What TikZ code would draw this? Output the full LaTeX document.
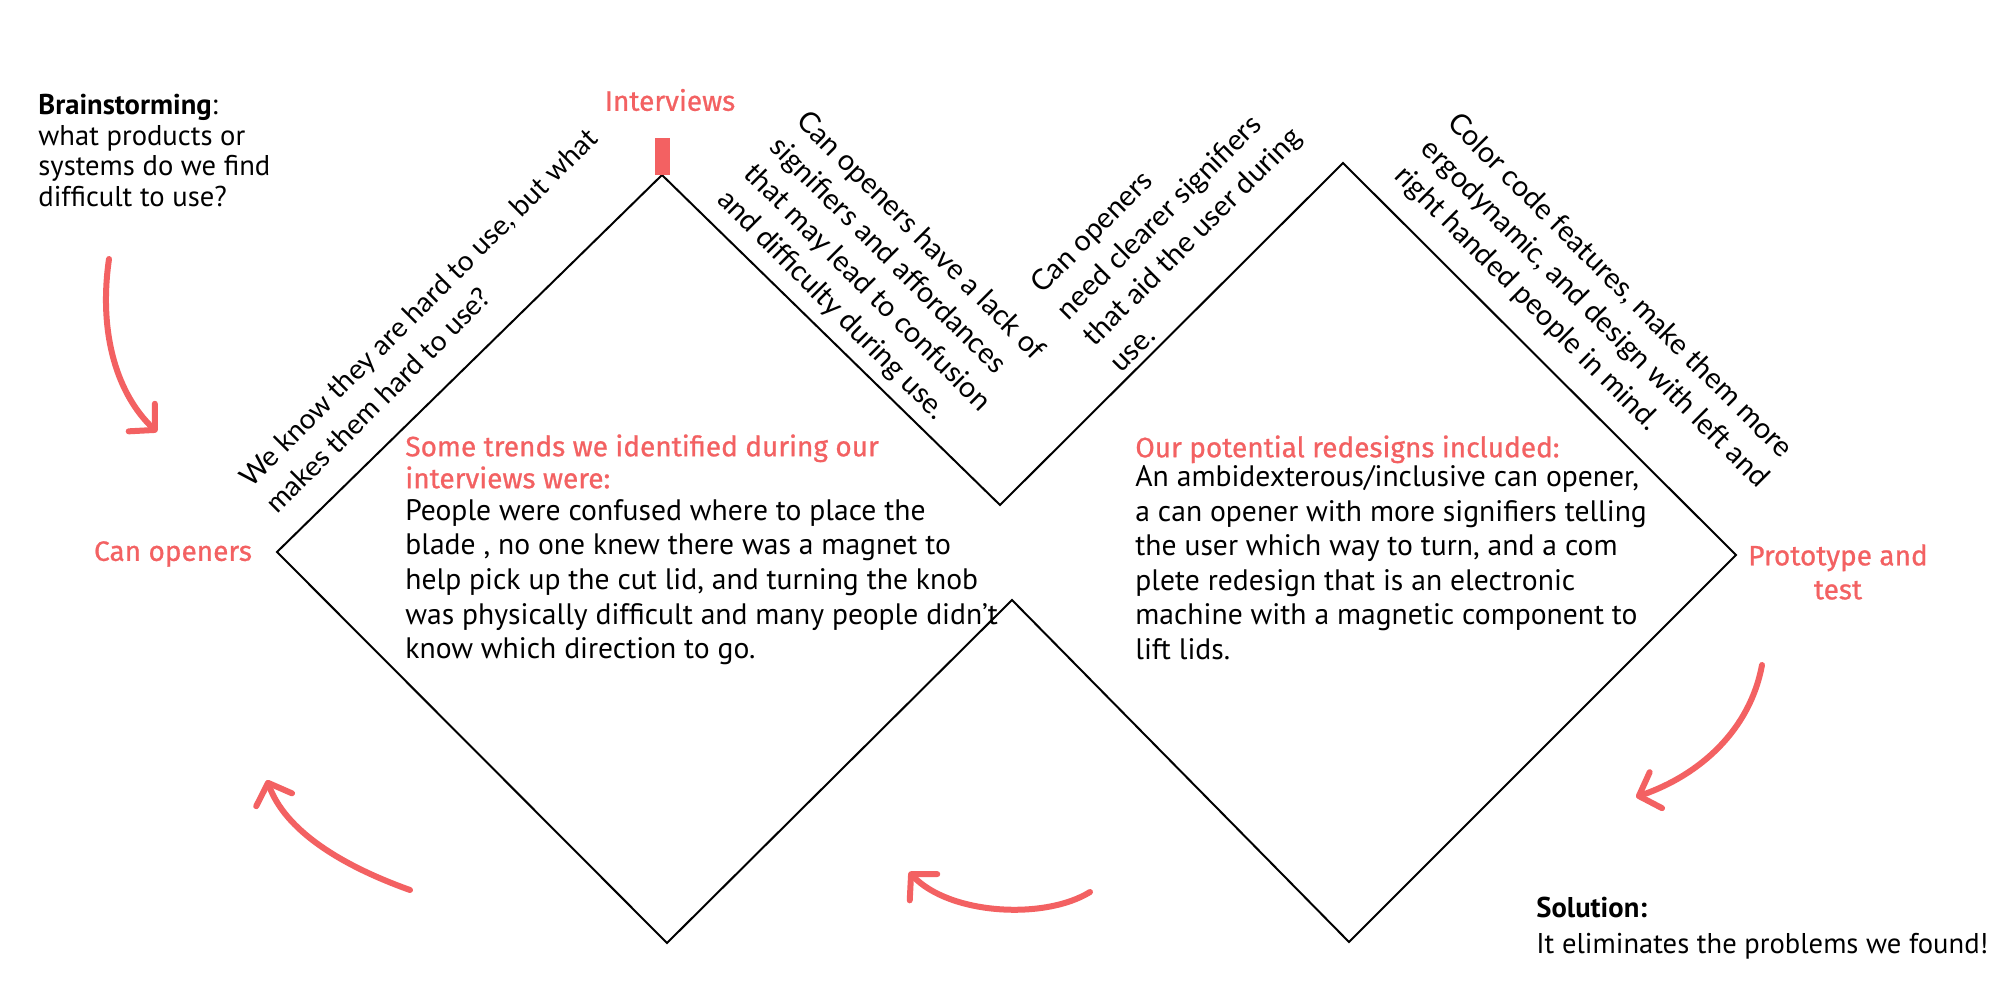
\documentclass[tikz,border=0pt]{standalone}
\usepackage{fontspec}
\setmainfont{PT Sans}
\newfontfamily\bodyfont{PT Sans}
\newfontfamily\headfont[FakeBold=0.8]{Fira Sans}
\newfontfamily\rotfont{Lato}
\usetikzlibrary{arrows.meta}
\definecolor{accent}{RGB}{243,97,98}
\tikzset{
  outline/.style={draw=black, line width=1pt, line join=miter},
  swoosh/.style={draw=accent, line width=3pt, line cap=round, -{Straight Barb[length=9pt, width=19pt, round]}},
  tag/.style={text=accent, font=\headfont\fontsize{14}{17}\selectfont, inner sep=0pt, align=center},
  heading/.style={text=accent, font=\headfont\fontsize{14}{16}\selectfont, align=left, inner sep=0pt, anchor=north west},
  para/.style={font=\bodyfont\fontsize{14.8}{17.3}\selectfont, align=left, inner sep=0pt, anchor=north west},
  plain/.style={font=\bodyfont\fontsize{14.3}{15.3}\selectfont, align=left, inner sep=0pt, anchor=north west},
  slanted/.style={font=\rotfont\fontsize{14.4}{18.6}\selectfont, align=left, inner sep=0pt, anchor=north west},
}
\begin{document}
\begin{tikzpicture}[x=0.5pt, y=-0.5pt]
\fill[white] (0,0) rectangle (1999,996);
\useasboundingbox (0,0) rectangle (1999,996);

% outline vertices
\coordinate (L)  at (277,552);
\coordinate (T1) at (662,175);
\coordinate (V1) at (1000,505);
\coordinate (T2) at (1343,163);
\coordinate (R)  at (1736,555);
\coordinate (B2) at (1349,942);
\coordinate (V2) at (1012,600);
\coordinate (B1) at (667,943);

\draw[outline] (L) -- (T1) -- (V1) -- (T2) -- (R) -- (B2) -- (V2) -- (B1) -- cycle;

% marker on first peak
\node (bar) [fill=accent, inner sep=0pt, minimum width=7.5pt, minimum height=18.5pt, anchor=south] at (T1) {};

% labels
\node[tag] (interviews) at (670,100) {Interviews};
\node[tag] (canopeners) at (173,554) {Can openers};
\node[tag] (proto) at (1838,572) {Prototype and\\test};

% brainstorming
\node[plain] (brain) at (38,94) {\textbf{Brainstorming}:\\what products or\\systems do we find\\difficult to use?};

% solution
\node[plain, font=\bodyfont\fontsize{14.3}{17.9}\selectfont] (solution) at (1536,897) {\textbf{Solution:}\\It eliminates the problems we found!};

% left block
\node[heading] (trendshead) at (405,434) {Some trends we identified during our\\interviews were:};
\node[para] (trends) at (405,499) {People were confused where to place the\\blade , no one knew there was a magnet to\\help pick up the cut lid, and turning the knob\\was physically difficult and many people didn’t\\know which direction to go.};

% right block
\node[heading] (redeshead) at (1135,435) {Our potential redesigns included:};
\node[para] (redes) at (1135,465) {An ambidexterous/inclusive can opener,\\a can opener with more signifiers telling\\the user which way to turn, and a com\\plete redesign that is an electronic\\machine with a magnetic component to\\lift lids.};

% slanted texts
\node[slanted, rotate=45, font=\rotfont\fontsize{14}{18.6}\selectfont] (q1) at (236,474) {We know they are hard to use, but what\\makes them hard to use?};
\node[slanted, rotate=-45] (q2) at (810,107) {Can openers have a lack of\\signifiers and affordances\\that may lead to confusion\\and difficulty during use.};
\node[slanted, rotate=45] (q3) at (1027,280) {Can openers\\need clearer signifiers\\that aid the user during\\use.};
\node[slanted, rotate=-45] (q4) at (1461,109) {Color code features, make them more\\ergodynamic, and design with left and\\right handed people in mind.};

% arrows
\coordinate (a1s) at (109,259);
\coordinate (a1e) at (157,432);
\coordinate (a2s) at (410,890);
\coordinate (a2e) at (267,780);
\coordinate (a3s) at (1090,892);
\coordinate (a3e) at (909,872);
\coordinate (a4s) at (1762,665);
\coordinate (a4e) at (1636,797);

\draw[swoosh] (a1s) .. controls (98,335) and (118,395) .. (a1e);
\draw[swoosh] (a2s) .. controls (340,865) and (285,830) .. (a2e);
\draw[swoosh] (a3s) .. controls (1045,920) and (950,915) .. (a3e);
\draw[swoosh] (a4s) .. controls (1750,730) and (1700,775) .. (a4e);
\end{tikzpicture}
\end{document}
